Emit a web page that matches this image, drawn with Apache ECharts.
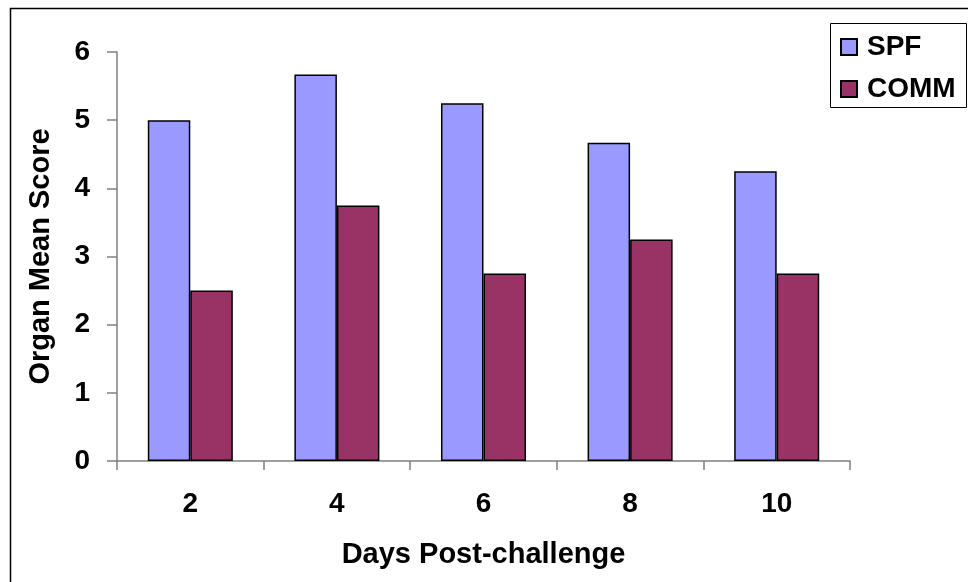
<!DOCTYPE html>
<html>
<head>
<meta charset="utf-8">
<script src="https://cdn.jsdelivr.net/npm/echarts@6/dist/echarts.min.js"></script>
<style>html,body{margin:0;padding:0;background:#fff}#c{width:968px;height:582px}</style>
</head>
<body>
<div id="c"></div>
<script>
var categories = ['2', '4', '6', '8', '10'];
var spfValues = [5.0, 5.67, 5.25, 4.67, 4.25];
var commValues = [2.5, 3.75, 2.75, 3.25, 2.75];
var seriesNames = ['SPF', 'COMM'];
var xTitle = 'Days Post-challenge';
var yTitle = 'Organ Mean Score';

var FONT = '"Liberation Sans", Arial, sans-serif';
var chart = echarts.init(document.getElementById('c'), null, {renderer: 'canvas'});
chart.setOption({
  animation: false,
  backgroundColor: '#ffffff',
  textStyle: {fontFamily: FONT},
  graphic: [
    {type: 'rect', shape: {x: 10.5, y: 8.5, width: 980, height: 600}, style: {fill: 'none', stroke: '#000', lineWidth: 1.5}, silent: true, z: 0},
    {type: 'rect', shape: {x: 830.5, y: 23.5, width: 136, height: 84}, style: {fill: '#fff', stroke: '#000', lineWidth: 1}, silent: true, z: 1}
  ],
  legend: {
    data: seriesNames,
    orient: 'vertical',
    left: 840,
    top: 33,
    padding: 0,
    itemWidth: 16,
    itemHeight: 16,
    itemGap: 14,
    icon: 'rect',
    z: 5,
    textStyle: {fontFamily: FONT, fontSize: 28, fontWeight: 'bold', color: '#000', padding: [0, 0, 0, 5]}
  },
  grid: {left: 117, right: 118, top: 52, bottom: 121, containLabel: false},
  xAxis: {
    type: 'category',
    data: categories,
    name: xTitle,
    nameLocation: 'middle',
    nameGap: 79,
    nameTextStyle: {fontFamily: FONT, fontSize: 29, fontWeight: 'bold', color: '#000'},
    axisLine: {lineStyle: {color: '#808080', width: 1.5}},
    axisTick: {show: true, alignWithLabel: false, length: 9, inside: false, lineStyle: {color: '#808080', width: 1.5}},
    axisLabel: {margin: 29, fontFamily: FONT, fontSize: 28, fontWeight: 'bold', color: '#000'},
    splitLine: {show: false}
  },
  yAxis: {
    type: 'value',
    min: 0,
    max: 6,
    interval: 1,
    name: yTitle,
    nameLocation: 'middle',
    nameGap: 62,
    nameRotate: 90,
    nameTextStyle: {fontFamily: FONT, fontSize: 29, fontWeight: 'bold', color: '#000'},
    axisLine: {show: true, lineStyle: {color: '#808080', width: 1.5}},
    axisTick: {show: true, length: 10, inside: false, lineStyle: {color: '#808080', width: 1.5}},
    axisLabel: {margin: 27, fontFamily: FONT, fontSize: 28, fontWeight: 'bold', color: '#000'},
    splitLine: {show: false}
  },
  series: [
    {
      name: seriesNames[0], type: 'bar', data: spfValues,
      barGap: '0%', barCategoryGap: '42%',
      itemStyle: {color: '#9999FF', borderColor: '#000', borderWidth: 1.5}
    },
    {
      name: seriesNames[1], type: 'bar', data: commValues,
      barGap: '0%', barCategoryGap: '42%',
      itemStyle: {color: '#993366', borderColor: '#000', borderWidth: 1.5}
    }
  ]
});
</script>
</body>
</html>
